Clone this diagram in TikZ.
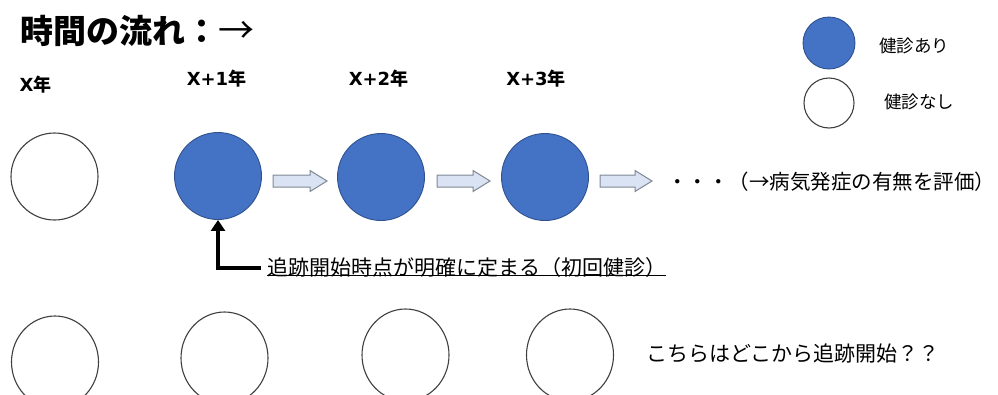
\documentclass[tikz,border=0pt]{standalone}
\usepackage{fontspec}
\setmainfont{Noto Sans CJK JP}
\newfontfamily\latb{DejaVu Sans}
\usetikzlibrary{arrows.meta,shapes.geometric,calc}
\definecolor{kblue}{HTML}{4472C4}
\definecolor{kblueline}{HTML}{2F528F}
\definecolor{arrfill}{HTML}{DAE3F3}
\definecolor{arrline}{HTML}{7F8794}
\newcommand\fs[1]{\fontsize{#1}{#1}\selectfont}
\newcommand\yr[1]{{\latb\bfseries #1}年}
\newcommand\barrow[3]{%
  \draw[blockarr] (#1,#3-6) -- (#2-17,#3-6) -- (#2-17,#3-10.5) -- (#2,#3) -- (#2-17,#3+10.5) -- (#2-17,#3+6) -- (#1,#3+6) -- cycle;}
\tikzset{
  bc/.style={circle,draw=kblueline,fill=kblue,line width=0.9pt,minimum size=87pt,inner sep=0pt},
  wc/.style={circle,draw=black!75,fill=white,line width=1.1pt,minimum size=87pt,inner sep=0pt},
  we/.style={ellipse,draw=black!75,fill=white,line width=1.1pt,minimum width=87pt,minimum height=92pt,inner sep=0pt},
  blockarr/.style={draw=arrline,fill=arrfill,line width=1pt,line join=miter},
  year/.style={font=\fs{18}\bfseries,inner sep=0pt},
  txt/.style={font=\fs{21},inner sep=0pt,anchor=west},
}
\begin{document}
\begin{tikzpicture}[x=1pt,y=-1pt]
\useasboundingbox (0,0) rectangle (998,394);
% title
\node[anchor=west,inner sep=0pt,font=\fs{33}\bfseries] (title) at (20,31) {時間の流れ：{\mdseries\fs{36}→}};
% years
\node[year] (y0) at (35.5,85) {\yr{X}};
\node[year] (y1) at (216.5,79) {\yr{X+1}};
\node[year] (y2) at (378.5,79) {\yr{X+2}};
\node[year] (y3) at (536,79) {\yr{X+3}};
% row 1
\node[wc] (a0) at (54.5,176.5) {};
\node[bc] (b1) at (218,176) {};
\node[bc] (b2) at (381,177) {};
\node[bc] (b3) at (545,177) {};
\barrow{273}{327}{181}
\barrow{437}{490}{181}
\barrow{600}{652}{181}
\node[txt,font=\fs{20.5}] (dots) at (667,182) {・・・（→病気発症の有無を評価）};
% elbow arrow
\node[txt] (lbl) at (267,268) {追跡開始時点が明確に定まる（初回健診）};
\draw ([yshift=3pt]lbl.south west) -- ([yshift=3pt]lbl.south east);
\draw[line width=4pt,-{Triangle[length=11pt,width=14pt]}] ([xshift=-6pt]lbl.west) -| (b1.south);
% row 2
\node[we] (c0) at (55,362) {};
\node[we] (c1) at (224.5,358) {};
\node[we] (c2) at (405.5,355) {};
\node[we] (c3) at (570,355) {};
\node[txt] (q) at (646,354) {こちらはどこから追跡開始？？};
% legend
\node[bc,minimum size=52pt] (lb) at (829,43) {};
\node[wc,minimum size=50pt] (lw) at (829,103) {};
\node[txt,font=\fs{17.5}] (lbt) at (879,46) {健診あり};
\node[txt,font=\fs{17.5}] (lwt) at (884,102) {健診なし};
\end{tikzpicture}
\end{document}
